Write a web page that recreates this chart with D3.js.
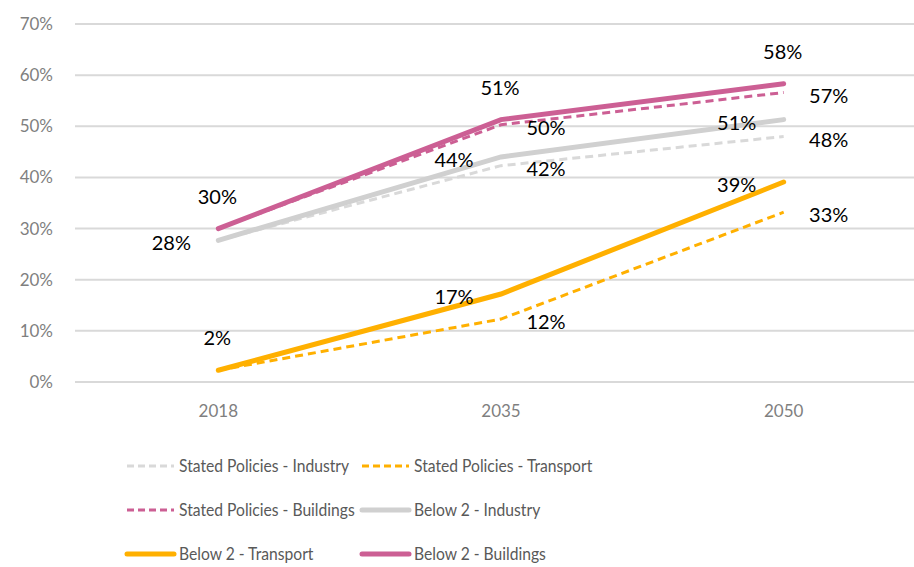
<!DOCTYPE html>
<html>
<head>
<meta charset="utf-8">
<script src="https://cdn.jsdelivr.net/npm/d3@7"></script>
<style>
  body { margin: 0; background: #fff; }
  text { font-family: Lato, "Open Sans", sans-serif; }
</style>
</head>
<body>
<div id="chart"></div>
<script>
// years on the x axis
var years = ["2018", "2035", "2050"];
var yTicks = [0, 0.1, 0.2, 0.3, 0.4, 0.5, 0.6, 0.7];

// series values
var statedIndustry = [0.277, 0.423, 0.48];
var statedTransport = [0.023, 0.123, 0.332];
var statedBuildings = [0.30, 0.503, 0.566];
var below2Industry = [0.277, 0.44, 0.513];
var below2Transport = [0.023, 0.172, 0.391];
var below2Buildings = [0.30, 0.513, 0.583];

// which label is shown where (null = hidden)
var statedIndustryLabels = [null, "right", "right"];
var statedTransportLabels = [null, "right", "right"];
var statedBuildingsLabels = [null, "right", "right"];
var below2IndustryLabels = ["left", "left", "left"];
var below2TransportLabels = ["above", "left", "left"];
var below2BuildingsLabels = ["above", "above", "above"];

var series = [
  { name: "Stated Policies - Industry", values: statedIndustry, labels: statedIndustryLabels, color: "#d9d9d9", dash: "8,5", w: 3 },
  { name: "Stated Policies - Transport", values: statedTransport, labels: statedTransportLabels, color: "#ffb000", dash: "8,5", w: 3 },
  { name: "Stated Policies - Buildings", values: statedBuildings, labels: statedBuildingsLabels, color: "#cc5f94", dash: "8,5", w: 3 },
  { name: "Below 2 - Industry", values: below2Industry, labels: below2IndustryLabels, color: "#d0d0d0", dash: null, w: 5 },
  { name: "Below 2 - Transport", values: below2Transport, labels: below2TransportLabels, color: "#ffb000", dash: null, w: 5 },
  { name: "Below 2 - Buildings", values: below2Buildings, labels: below2BuildingsLabels, color: "#cc5f94", dash: null, w: 5 }
];

var width = 914, height = 567;
var svg = d3.select("#chart").append("svg")
    .attr("width", width)
    .attr("height", height);

var x = d3.scaleBand().domain(years).range([77, 925]);
var y = d3.scaleLinear().domain([0, 0.7]).range([382, 24]);
function cx(d) { return x(d) + x.bandwidth() / 2; }

// gridlines
svg.append("g").selectAll("line")
    .data(yTicks)
    .enter().append("line")
    .attr("x1", 75).attr("x2", width)
    .attr("y1", function(d) { return y(d); })
    .attr("y2", function(d) { return y(d); })
    .style("stroke", "#d9d9d9")
    .style("stroke-width", 2);

// y axis labels
var yAxis = d3.axisLeft(y).tickValues(yTicks).tickFormat(d3.format(".0%")).tickSize(0).tickPadding(0);
svg.append("g")
    .attr("transform", "translate(53,0)")
    .call(yAxis)
    .call(function(g) { g.select(".domain").remove(); })
    .selectAll("text")
    .style("font-family", "Lato, sans-serif")
    .style("font-size", "17px")
    .style("fill", "#7f7f7f");

// x axis labels
svg.append("g")
    .attr("transform", "translate(0,405)")
    .call(d3.axisBottom(x).tickSize(0).tickPadding(0))
    .call(function(g) { g.select(".domain").remove(); })
    .selectAll("text")
    .attr("dy", "0.71em")
    .style("font-family", "Lato, sans-serif")
    .style("font-size", "17px")
    .style("fill", "#7f7f7f");

var line = d3.line()
    .x(function(d, i) { return cx(years[i]); })
    .y(function(d) { return y(d); });

// dashed first, solid drawn on top
svg.append("g").selectAll("path")
    .data(series)
    .enter().append("path")
    .attr("d", function(d) { return line(d.values); })
    .style("fill", "none")
    .style("stroke", function(d) { return d.color; })
    .style("stroke-width", function(d) { return d.w; })
    .style("stroke-dasharray", function(d) { return d.dash; })
    .style("stroke-linecap", function(d) { return d.dash ? "butt" : "round"; });

// data labels
var labelData = [];
series.forEach(function(s) {
  s.values.forEach(function(v, i) {
    if (s.labels[i]) labelData.push({ year: years[i], v: v, pos: s.labels[i] });
  });
});

svg.append("g").selectAll("text")
    .data(labelData)
    .enter().append("text")
    .attr("x", function(d) {
      var px = cx(d.year);
      if (d.pos === "left") return px - 47;
      if (d.pos === "right") return px + 45;
      return px - 1;
    })
    .attr("y", function(d) {
      var py = y(d.v);
      if (d.pos === "above") return py - 32;
      return py + 3;
    })
    .attr("dy", "0.35em")
    .attr("text-anchor", "middle")
    .style("font-size", "20px")
    .style("fill", "#000")
    .text(function(d) { return d3.format(".0%")(d.v); });

// legend
var legend = svg.append("g").selectAll("g")
    .data(series)
    .enter().append("g")
    .attr("transform", function(d, i) {
      return "translate(" + (i % 2 === 0 ? 127 : 362) + "," + (466 + Math.floor(i / 2) * 44) + ")";
    });

legend.append("line")
    .attr("x1", 0).attr("x2", 47)
    .style("stroke", function(d) { return d.color; })
    .style("stroke-width", function(d) { return d.w; })
    .style("stroke-dasharray", function(d) { return d.dash ? "7,4" : null; })
    .style("stroke-linecap", function(d) { return d.dash ? "butt" : "round"; });

// the original font is narrow, so squeeze the text horizontally
legend.append("text")
    .attr("transform", "translate(52,0) scale(0.87,1)")
    .attr("dy", "0.35em")
    .style("font-size", "18px")
    .style("fill", "#595959")
    .text(function(d) { return d.name; });
</script>
</body>
</html>
